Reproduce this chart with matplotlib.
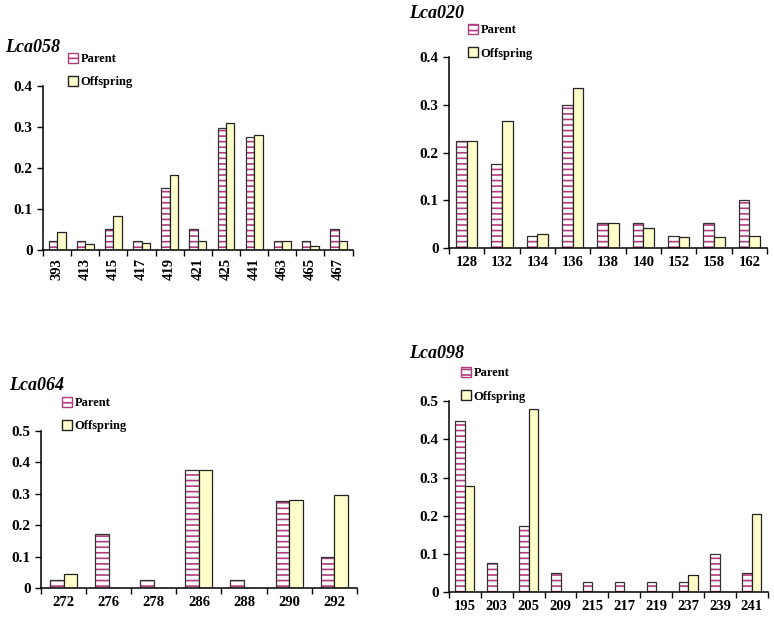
import matplotlib.pyplot as plt
from matplotlib.patches import Patch
from matplotlib.ticker import FuncFormatter

# allele sizes and frequencies, one block per locus
lca058_alleles = ['393', '413', '415', '417', '419', '421', '425', '441', '463', '465', '467']
lca058_parent = [0.022, 0.022, 0.052, 0.022, 0.152, 0.052, 0.298, 0.276, 0.022, 0.022, 0.052]
lca058_offspring = [0.045, 0.015, 0.082, 0.018, 0.182, 0.022, 0.310, 0.280, 0.022, 0.010, 0.022]

lca020_alleles = ['128', '132', '134', '136', '138', '140', '152', '158', '162']
lca020_parent = [0.224, 0.175, 0.026, 0.299, 0.052, 0.052, 0.026, 0.052, 0.100]
lca020_offspring = [0.224, 0.265, 0.029, 0.335, 0.052, 0.042, 0.023, 0.023, 0.026]

lca064_alleles = ['272', '276', '278', '286', '288', '290', '292']
lca064_parent = [0.026, 0.172, 0.026, 0.375, 0.026, 0.276, 0.100]
lca064_offspring = [0.045, 0.0, 0.0, 0.375, 0.0, 0.280, 0.296]

lca098_alleles = ['195', '203', '205', '209', '215', '217', '219', '237', '239', '241']
lca098_parent = [0.447, 0.075, 0.172, 0.050, 0.026, 0.026, 0.026, 0.026, 0.100, 0.050]
lca098_offspring = [0.279, 0.0, 0.480, 0.0, 0.0, 0.0, 0.0, 0.045, 0.0, 0.204]

plt.rcParams['font.family'] = 'Liberation Serif'
plt.rcParams['font.weight'] = 'bold'
plt.rcParams['hatch.linewidth'] = 1.2

PINK = '#b03c7c'
YELLOW = '#ffffcc'
W = 0.3


def yfmt(v, pos):
    return '0' if abs(v) < 1e-9 else '%.1f' % v


def panel(rect, name, title_xy, leg_xy, alleles, par, off, ymax, rotate):
    fig = plt.gcf()
    ax = fig.add_axes(rect)
    x = list(range(len(alleles)))
    xp = [i - W / 2 for i in x]
    xo = [i + W / 2 for i in x]
    # striped parent bars: hatch first, then the outline
    ax.bar(xp, par, W, color='white', edgecolor=PINK, hatch='---', linewidth=0)
    ax.bar(xp, par, W, color='none', edgecolor='#333333', linewidth=0.9)
    ax.bar(xo, off, W, color=YELLOW, edgecolor='#222222', linewidth=0.9)
    ax.set_xlim(-0.5, len(alleles) - 0.5)
    ax.set_ylim(0, ymax)
    ax.set_yticks([i / 10 for i in range(int(round(ymax * 10)) + 1)])
    ax.yaxis.set_major_formatter(FuncFormatter(yfmt))
    ax.set_xticks([i - 0.5 for i in range(len(alleles) + 1)])
    ax.set_xticklabels([])
    ax.set_xticks(x, minor=True)
    ax.set_xticklabels(alleles, minor=True, rotation=90 if rotate else 0)
    ax.tick_params(axis='x', which='major', length=4, width=1)
    ax.tick_params(axis='x', which='minor', length=0, pad=6, labelsize=10.5)
    ax.tick_params(axis='y', length=4, width=1, labelsize=11)
    for s in ['top', 'right']:
        ax.spines[s].set_visible(False)
    for s in ['left', 'bottom']:
        ax.spines[s].set_linewidth(1.1)
    fig.text(title_xy[0], title_xy[1], name, fontsize=13, style='italic',
             weight='bold', ha='left', va='center')
    handles = [Patch(facecolor='white', edgecolor=PINK, hatch='---', label='Parent'),
               Patch(facecolor=YELLOW, edgecolor='#222222', label='Offspring')]
    ax.legend(handles=handles, loc='upper left', bbox_to_anchor=leg_xy,
              bbox_transform=fig.transFigure, frameon=False, fontsize=9,
              handlelength=0.8, handleheight=0.8, handletextpad=0.2,
              labelspacing=0.9, borderpad=0, borderaxespad=0)
    return ax


fig = plt.figure(figsize=(7.74, 6.25), dpi=100)

panel([0.0556, 0.600, 0.400, 0.262], 'Lca058', (0.006, 1 - 47 / 625),
      (0.088, 1 - 53 / 625), lca058_alleles, lca058_parent, lca058_offspring, 0.4, True)
panel([0.580, 0.603, 0.411, 0.306], 'Lca020', (0.528, 1 - 13 / 625),
      (0.605, 1 - 24 / 625), lca020_alleles, lca020_parent, lca020_offspring, 0.4, False)
panel([0.053, 0.0592, 0.408, 0.2512], 'Lca064', (0.012, 1 - 386 / 625),
      (0.080, 1 - 397 / 625), lca064_alleles, lca064_parent, lca064_offspring, 0.5, False)
panel([0.580, 0.0528, 0.412, 0.3052], 'Lca098', (0.528, 1 - 353 / 625),
      (0.596, 1 - 367 / 625), lca098_alleles, lca098_parent, lca098_offspring, 0.5, False)

fig.savefig('out.png', dpi=100)
